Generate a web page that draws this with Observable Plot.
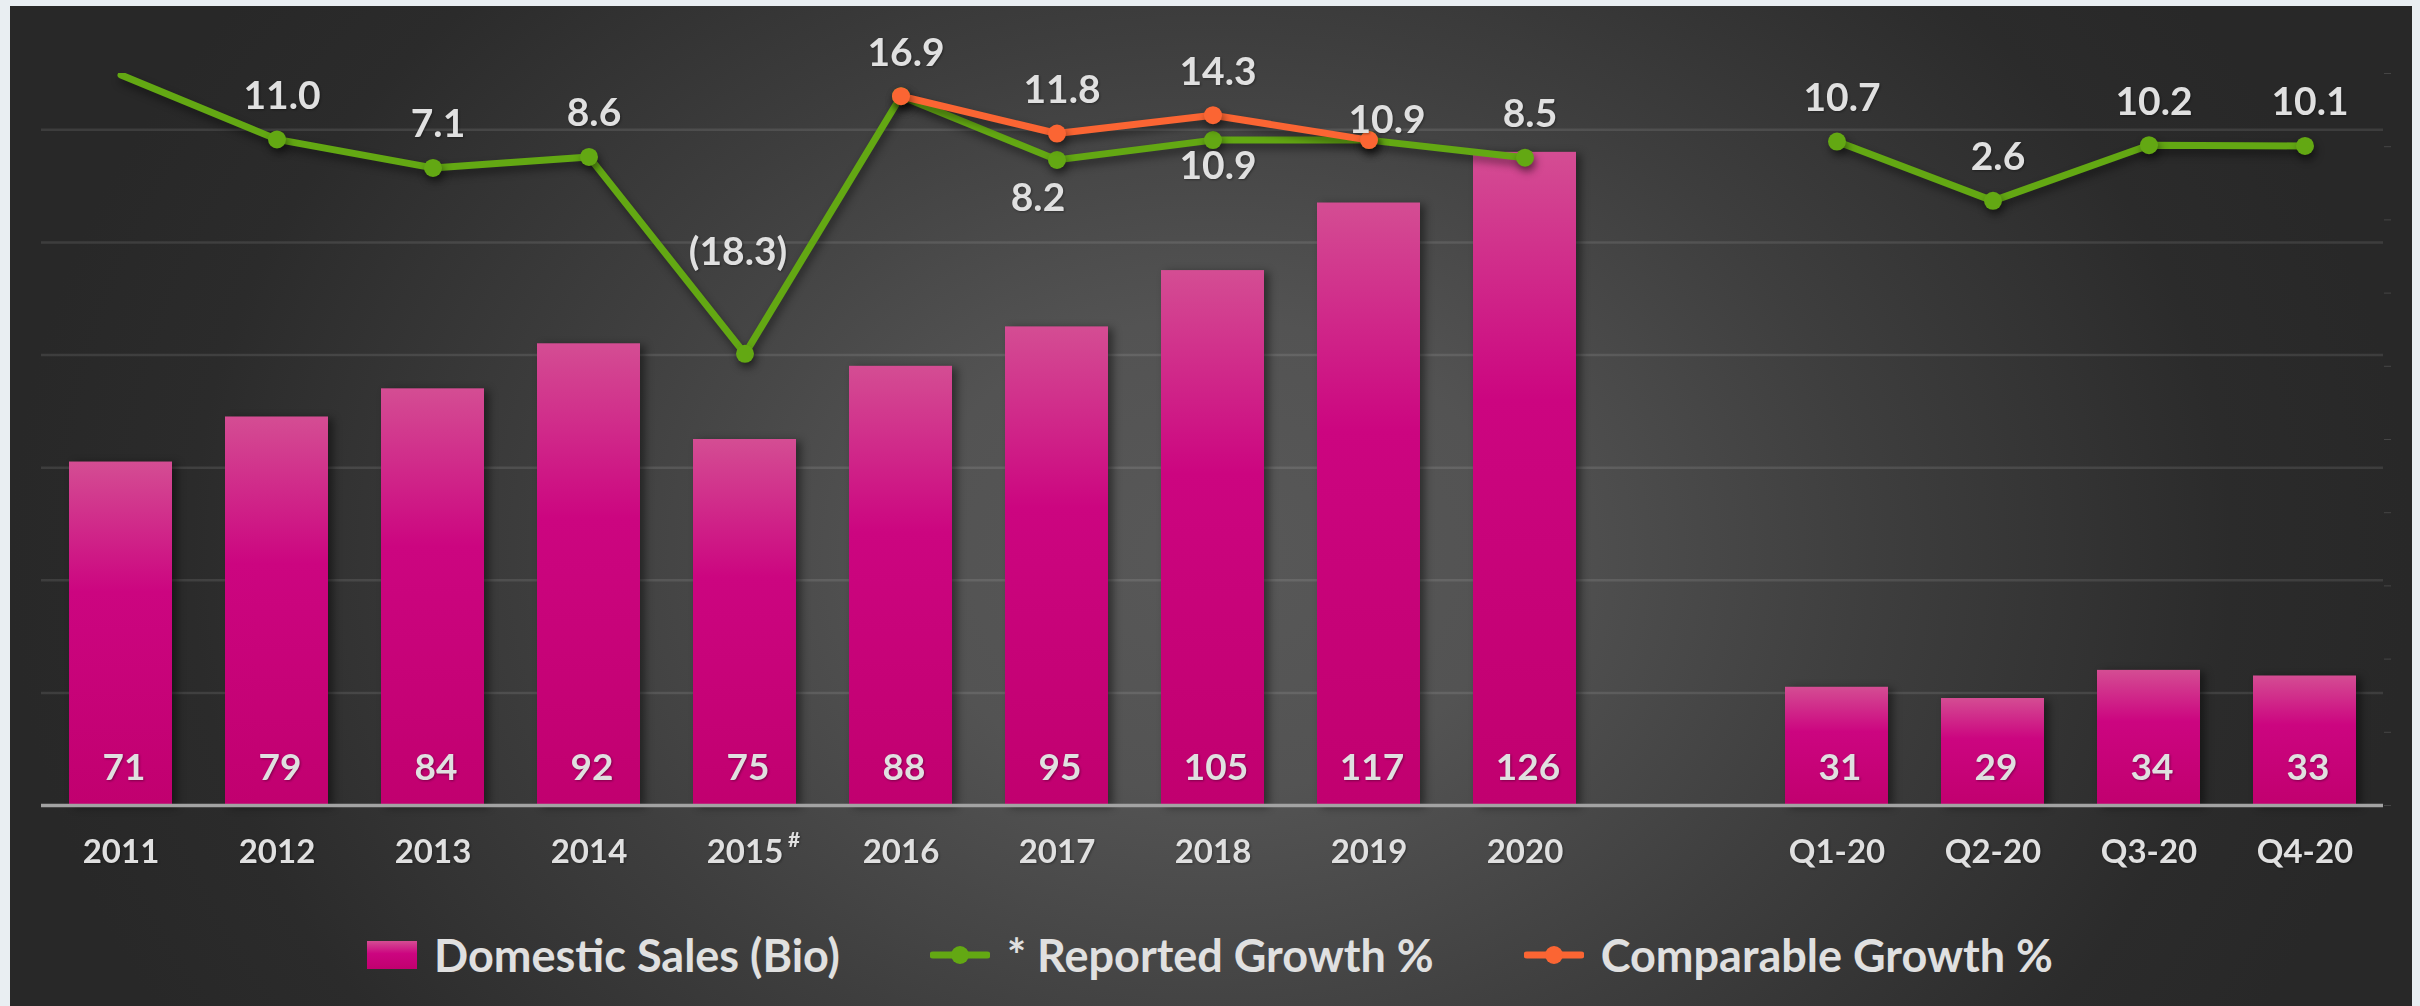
<!DOCTYPE html>
<html>
<head>
<meta charset="utf-8">
<script src="https://cdn.jsdelivr.net/npm/d3@7"></script>
<script src="https://cdn.jsdelivr.net/npm/@observablehq/plot@0.6"></script>
<style>
  html, body { margin: 0; padding: 0; width: 2420px; height: 1006px; overflow: hidden; background: #e9eef2; }
  #panel {
    position: absolute; left: 10px; top: 6px; width: 2402px; height: 1000px;
    background: radial-gradient(ellipse 50% 95% at 50% 55%, #585858 0%, #535353 25%, #3e3e3e 55%, #2b2b2b 85%, #282828 100%);
  }
  #chart { position: absolute; left: 0; top: 0; }
  #legend {
    position: absolute; left: 0; width: 2420px; top: 925px; height: 60px;
    display: flex; justify-content: center; align-items: center; gap: 90px;
    font-family: Lato, "Liberation Sans", sans-serif; font-weight: 700; font-size: 45px; color: #e0e0e0;
  }
  .item { display: flex; align-items: center; gap: 17px; }
</style>
</head>
<body>
<div id="panel"></div>
<div id="chart"></div>
<div id="legend"></div>
<script>
// ---- data ----
const annualPeriods = ["2011", "2012", "2013", "2014", "2015", "2016", "2017", "2018", "2019", "2020"];
const quarterPeriods = ["Q1-20", "Q2-20", "Q3-20", "Q4-20"];
const gapKey = "gap";
const annualSales = [71, 79, 84, 92, 75, 88, 95, 105, 117, 126];
const quarterSales = [31, 29, 34, 33];
const annualReported = [19.8, 11.0, 7.1, 8.6, -18.3, 16.9, 8.2, 10.9, 10.9, 8.5];
const quarterReported = [10.7, 2.6, 10.2, 10.1];
const comparablePeriods = ["2016", "2017", "2018", "2019"];
const comparableGrowth = [16.9, 11.8, 14.3, 10.9];
const salesDomain = [10, 140];
const salesGridTicks = [30, 50, 70, 90, 110, 130];
const growthDomain = [-80, 20];
const growthTicks = [-80, -70, -60, -50, -40, -30, -20, -10, 0, 10, 20];
const footnoteMark = "#";
const legendLabels = ["Domestic Sales (Bio)", "* Reported Growth %", "Comparable Growth %"];

// ---- colours ----
const green = "#63a813";
const orange = "#fb6533";
const textColor = "#e0e0e0";
const font = "Lato, 'Liberation Sans', sans-serif";

// ---- tables ----
const salesRows = [
  ...annualPeriods.map((p, i) => ({period: p, value: annualSales[i]})),
  ...quarterPeriods.map((p, i) => ({period: p, value: quarterSales[i]}))
];
const reportedRows = [
  ...annualPeriods.map((p, i) => ({period: p, value: annualReported[i], seg: "annual"})),
  ...quarterPeriods.map((p, i) => ({period: p, value: quarterReported[i], seg: "quarter"}))
];
const comparableRows = comparablePeriods.map((p, i) => ({period: p, value: comparableGrowth[i]}));

// map secondary (growth %) axis onto primary (sales) axis
const toPrimary = g => salesDomain[0] + (g - growthDomain[0]) * (salesDomain[1] - salesDomain[0]) / (growthDomain[1] - growthDomain[0]);
const fmt = v => v < 0 ? `(${Math.abs(v).toFixed(1)})` : v.toFixed(1);
const xDomain = [...annualPeriods, gapKey, ...quarterPeriods];
const tickPeriods = [...annualPeriods, ...quarterPeriods];

const pick = (rows, names) => rows.filter(d => names.includes(d.period));
const labelStyle = {fill: textColor, fontSize: 39, fontWeight: 700, fontFamily: font};
const barLabelStyle = {fill: textColor, fontSize: 37, fontWeight: 700, fontFamily: font};

const chart = Plot.plot({
  width: 2420,
  height: 900,
  marginTop: 73,
  marginBottom: 95,
  marginLeft: 41,
  marginRight: 37,
  style: {background: "transparent", overflow: "visible"},
  x: {type: "band", domain: xDomain, paddingInner: 0.34, paddingOuter: 0.17, axis: null},
  y: {domain: salesDomain, axis: null},
  marks: [
    Plot.gridY(salesGridTicks, {stroke: "white", strokeOpacity: 0.1, strokeWidth: 2.5}),
    Plot.axisY(growthTicks.map(toPrimary), {anchor: "right", tickFormat: () => "", tickSize: 7, stroke: "#454545", label: null}),
    Plot.barY(salesRows, {x: "period", y1: () => salesDomain[0], y2: "value", fill: "url(#barGrad)"}),
    Plot.ruleY([salesDomain[0]], {stroke: "#a3a3a3", strokeWidth: 3.5}),
    Plot.text(salesRows, {x: "period", text: d => String(d.value), frameAnchor: "bottom", dy: -37, dx: 3, lineAnchor: "middle", ...barLabelStyle}),
    Plot.text(tickPeriods, {x: d => d, text: d => d, frameAnchor: "bottom", dy: 47, lineAnchor: "middle", fill: textColor, fontSize: 33, fontWeight: 700, fontFamily: font}),
    Plot.text(["2015"], {x: d => d, text: () => footnoteMark, frameAnchor: "bottom", dy: 35, dx: 49, lineAnchor: "middle", fill: textColor, fontSize: 21, fontWeight: 700, fontFamily: font}),
    Plot.line(reportedRows, {x: "period", y: d => toPrimary(d.value), z: "seg", stroke: green, strokeWidth: 7, clip: true}),
    Plot.dot(reportedRows.filter(d => d.period !== "2011"), {x: "period", y: d => toPrimary(d.value), r: 9, fill: green}),
    Plot.line(comparableRows, {x: "period", y: d => toPrimary(d.value), stroke: orange, strokeWidth: 7}),
    Plot.dot(comparableRows, {x: "period", y: d => toPrimary(d.value), r: 9, fill: orange}),
    // data labels
    Plot.text(pick(reportedRows, ["2012", "2013", "2014", "2020", ...quarterPeriods]), {x: "period", y: d => toPrimary(d.value), text: d => fmt(d.value), dy: -43, dx: 5, lineAnchor: "middle", ...labelStyle}),
    Plot.text(pick(reportedRows, ["2015"]), {x: "period", y: d => toPrimary(d.value), text: d => fmt(d.value), dy: -101, dx: -7, lineAnchor: "middle", ...labelStyle}),
    Plot.text(pick(reportedRows, ["2017"]), {x: "period", y: d => toPrimary(d.value), text: d => fmt(d.value), dy: 39, dx: -19, lineAnchor: "middle", ...labelStyle}),
    Plot.text(pick(reportedRows, ["2018"]), {x: "period", y: d => toPrimary(d.value), text: d => fmt(d.value), dy: 26, dx: 5, lineAnchor: "middle", ...labelStyle}),
    Plot.text(pick(comparableRows, ["2016", "2017", "2018"]), {x: "period", y: d => toPrimary(d.value), text: d => fmt(d.value), dy: -43, dx: 5, lineAnchor: "middle", ...labelStyle}),
    Plot.text(pick(comparableRows, ["2019"]), {x: "period", y: d => toPrimary(d.value), text: d => fmt(d.value), dy: -20, dx: 18, lineAnchor: "middle", ...labelStyle})
  ]
});

// gradient + shadows
const svg = d3.select(chart);
const defs = svg.insert("defs", ":first-child");
const grad = defs.append("linearGradient").attr("id", "barGrad").attr("x1", 0).attr("y1", 0).attr("x2", 0).attr("y2", 1);
grad.append("stop").attr("offset", "0%").attr("stop-color", "#d44d93");
grad.append("stop").attr("offset", "38%").attr("stop-color", "#cc0580");
grad.append("stop").attr("offset", "100%").attr("stop-color", "#c1006f");
svg.selectAll("g[aria-label='bar']").style("filter", "drop-shadow(5px 2px 4px rgba(0,0,0,0.45))");
svg.selectAll("g[aria-label='line'], g[aria-label='dot']").style("filter", "drop-shadow(2px 5px 4px rgba(0,0,0,0.45))");
svg.selectAll("g[aria-label='text']").style("filter", "drop-shadow(1px 1px 1px rgba(0,0,0,0.35))");
document.getElementById("chart").appendChild(chart);

// legend
const legend = d3.select("#legend");
const swatches = [
  s => s.append("svg").attr("width", 50).attr("height", 28).call(g => {
    const d = g.append("defs").append("linearGradient").attr("id", "legGrad").attr("x1", 0).attr("y1", 0).attr("x2", 0).attr("y2", 1);
    d.append("stop").attr("offset", "0%").attr("stop-color", "#d44d93");
    d.append("stop").attr("offset", "45%").attr("stop-color", "#cc0580");
    d.append("stop").attr("offset", "100%").attr("stop-color", "#c1006f");
    g.append("rect").attr("width", 50).attr("height", 28).attr("fill", "url(#legGrad)");
  }),
  s => s.append("svg").attr("width", 60).attr("height", 22).call(g => {
    g.append("line").attr("x1", 3).attr("x2", 57).attr("y1", 11).attr("y2", 11).attr("stroke", green).attr("stroke-width", 7).attr("stroke-linecap", "round");
    g.append("circle").attr("cx", 30).attr("cy", 11).attr("r", 9).attr("fill", green);
  }),
  s => s.append("svg").attr("width", 60).attr("height", 22).call(g => {
    g.append("line").attr("x1", 3).attr("x2", 57).attr("y1", 11).attr("y2", 11).attr("stroke", orange).attr("stroke-width", 7).attr("stroke-linecap", "round");
    g.append("circle").attr("cx", 30).attr("cy", 11).attr("r", 9).attr("fill", orange);
  })
];
legendLabels.forEach((label, i) => {
  const item = legend.append("div").attr("class", "item");
  swatches[i](item);
  item.append("span").text(label);
});
</script>
</body>
</html>
